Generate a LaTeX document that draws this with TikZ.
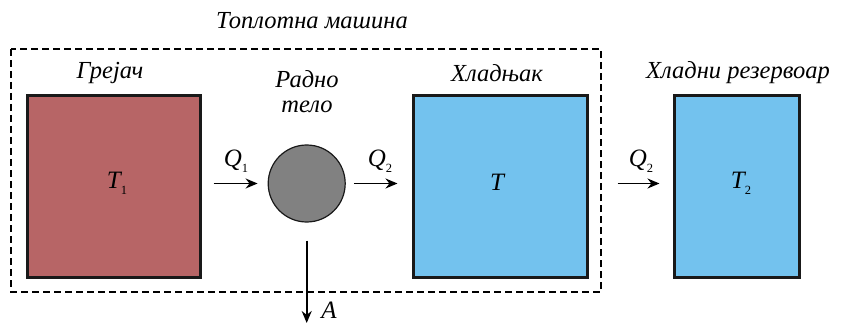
\documentclass[tikz,border=0pt]{standalone}
\usepackage{fontspec}
\setmainfont{Liberation Serif}[Script=Cyrillic, Language=Serbian]
\newfontfamily\latinfont{Liberation Serif}
\usetikzlibrary{arrows.meta}
\newcommand{\lowidx}[1]{\raisebox{-0.55ex}{\upshape\fontsize{12.5}{13}\selectfont #1}}
\definecolor{heatred}{HTML}{B76566}
\definecolor{coolblue}{HTML}{73C2EE}
\definecolor{bodygray}{HTML}{818181}
\tikzset{
  tank/.style={draw=black!90, line width=3pt, minimum height=181pt},
  lbl/.style={font=\fontsize{24.5}{28}\selectfont\itshape, inner sep=0pt},
  sym/.style={font=\latinfont\fontsize{25}{28}\selectfont\itshape, inner sep=0pt},
  arr/.style={line width=1.8pt, -{Stealth[length=12pt,width=10pt]}},
  frame/.style={line width=2.6pt, dash pattern=on 7pt off 4pt}
}
\begin{document}
\begin{tikzpicture}[x=1pt,y=-1pt]
\useasboundingbox (0,0) rectangle (845,323);
\draw[frame] (11,49) rectangle (601,292);
\node[lbl] (title) at (312,21) {Топлотна машина};
\node[tank, fill=heatred, minimum width=173pt] (heater) at (113.5,186.5) {};
\node[tank, fill=coolblue, minimum width=174pt] (cooler) at (500,186.5) {};
\node[tank, fill=coolblue, minimum width=125pt] (res) at (736.5,186.5) {};
\node[circle, draw=black!90, line width=1.2pt, fill=bodygray, minimum size=77pt, inner sep=0pt] (body) at (306.7,183.5) {};
\node[lbl] (lheater) at (110,73) {Грејач};
\node[lbl] (lbody1) at (307,79) {Радно};
\node[lbl] (lbody2) at (307,107) {тело};
\node[lbl] (lcooler) at (497,73) {Хладњак};
\node[lbl] (lres) at (738,73) {Хладни резервоар};
\node[sym] (t1) at (117,183) {T\lowidx{1}};
\node[sym] (t) at (497,182) {T};
\node[sym] (t2) at (741,183) {T\lowidx{2}};
\draw[arr, shorten <=12pt, shorten >=10pt] (heater.east |- body.center) -- (body);
\draw[arr, shorten <=8pt, shorten >=14pt] (body) -- (cooler.west |- body.center);
\draw[arr, shorten <=29pt, shorten >=13pt] (cooler.east |- body.center) -- (res.west |- body.center);
\coordinate (aend) at (306.7,323);
\draw[arr, shorten <=18pt] (body) -- (aend);
\node[sym] (q1) at (236,161) {Q\lowidx{1}};
\node[sym] (q2) at (380,161) {Q\lowidx{2}};
\node[sym] (q2r) at (641,161) {Q\lowidx{2}};
\node[sym] (a) at (329,310) {A};
\end{tikzpicture}
\end{document}
